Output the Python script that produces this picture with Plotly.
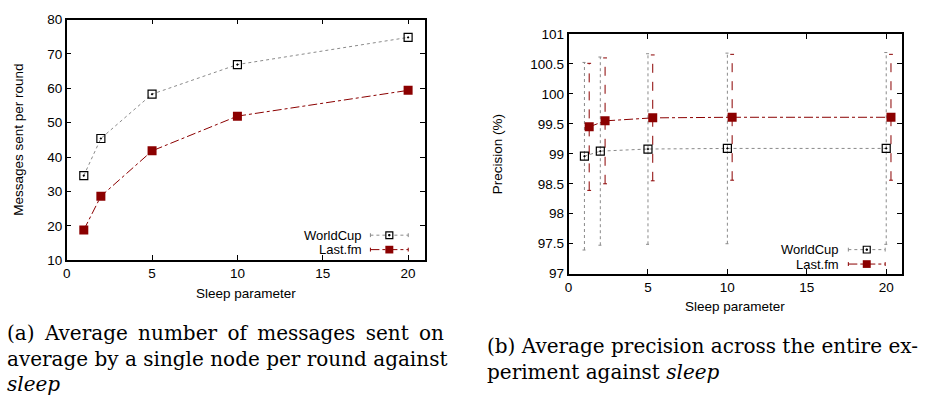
import plotly.graph_objects as go

W, H = 926, 403

# ---------------- data ----------------
sleep = [1, 2, 5, 10, 20]
msgs_worldcup = [34.6, 45.4, 58.3, 66.9, 74.8]
msgs_lastfm = [18.8, 28.6, 41.8, 51.9, 59.4]

prec_x_worldcup = [1.0, 2.0, 5.0, 10.0, 20.0]
prec_x_lastfm = [1.3, 2.3, 5.3, 10.3, 20.3]
prec_worldcup = [98.96, 99.045, 99.08, 99.09, 99.09]
prec_worldcup_err = [1.565, 1.57, 1.59, 1.59, 1.60]
prec_lastfm = [99.45, 99.55, 99.60, 99.61, 99.61]
prec_lastfm_err = [1.06, 1.05, 1.05, 1.05, 1.05]

left_yticks = [10, 20, 30, 40, 50, 60, 70, 80]
right_yticks = [97, 97.5, 98, 98.5, 99, 99.5, 100, 100.5, 101]
right_yticklabels = ["97", "97.5", "98", "98.5", "99", "99.5", "100", "100.5", "101"]
xticks = [0, 5, 10, 15, 20]

GREY = "#8a8a8a"
RED = "#8b0000"
TICKFONT = dict(family="Liberation Sans, Arial, sans-serif", size=13.5, color="black")


def px_x(p):
    return p / W


def px_y(p):
    return 1 - p / H


def errbar_xy(xs, ys, es, cap=0.12):
    bx, by = [], []
    for x, y, e in zip(xs, ys, es):
        lo, hi = y - e, y + e
        bx += [x, x, None, x - cap, x + cap, None, x - cap, x + cap, None]
        by += [lo, hi, None, lo, lo, None, hi, hi, None]
    return bx, by


fig = go.Figure()

# ---------- left panel ----------
fig.add_trace(go.Scatter(
    x=sleep, y=msgs_worldcup, mode="lines+markers", name="WorldCup",
    line=dict(color=GREY, width=1, dash="dot"),
    marker=dict(symbol="square-open-dot", size=8, color="black", line=dict(width=1.2, color="black")),
    xaxis="x", yaxis="y", showlegend=False))
fig.add_trace(go.Scatter(
    x=sleep, y=msgs_lastfm, mode="lines+markers", name="Last.fm",
    line=dict(color=RED, width=1, dash="dashdot"),
    marker=dict(symbol="square", size=9, color=RED),
    xaxis="x", yaxis="y", showlegend=False))

# ---------- right panel ----------
bx, by = errbar_xy(prec_x_worldcup, prec_worldcup, prec_worldcup_err)
fig.add_trace(go.Scatter(x=bx, y=by, mode="lines", line=dict(color=GREY, width=1, dash="dot"),
                         xaxis="x2", yaxis="y2", showlegend=False, hoverinfo="skip"))
bx, by = errbar_xy(prec_x_lastfm, prec_lastfm, prec_lastfm_err)
fig.add_trace(go.Scatter(x=bx, y=by, mode="lines", line=dict(color=RED, width=1, dash="dash"),
                         xaxis="x2", yaxis="y2", showlegend=False, hoverinfo="skip"))
fig.add_trace(go.Scatter(
    x=prec_x_worldcup, y=prec_worldcup, mode="lines+markers", name="WorldCup",
    line=dict(color=GREY, width=1, dash="dot"),
    marker=dict(symbol="square-open-dot", size=8, color="black", line=dict(width=1.2, color="black")),
    xaxis="x2", yaxis="y2", showlegend=False))
fig.add_trace(go.Scatter(
    x=prec_x_lastfm, y=prec_lastfm, mode="lines+markers", name="Last.fm",
    line=dict(color=RED, width=1, dash="dashdot"),
    marker=dict(symbol="square", size=9, color=RED),
    xaxis="x2", yaxis="y2", showlegend=False))

axis_common = dict(showline=True, linecolor="black", linewidth=1.5, mirror="ticks",
                   ticks="inside", ticklen=5, tickcolor="black", tickwidth=1,
                   showgrid=False, zeroline=False, tickfont=TICKFONT)

fig.update_layout(
    width=W, height=H, margin=dict(l=0, r=0, t=0, b=0),
    paper_bgcolor="white", plot_bgcolor="white",
    xaxis=dict(domain=[px_x(63), px_x(423)], range=[0, 21], tickvals=xticks, anchor="y", **axis_common),
    yaxis=dict(domain=[px_y(263), px_y(13)], range=[10, 80], tickvals=left_yticks, anchor="x", **axis_common),
    xaxis2=dict(domain=[px_x(567), px_x(902)], range=[0, 21], tickvals=xticks, anchor="y2", **axis_common),
    yaxis2=dict(domain=[px_y(277), px_y(28)], range=[97, 101], tickvals=right_yticks,
                ticktext=right_yticklabels, anchor="x2", **axis_common),
)

annots = []
LBL = dict(family="Liberation Sans, Arial, sans-serif", size=13.5, color="black")
# axis titles
annots.append(dict(x=px_x(243), y=px_y(298), text="Sleep parameter", showarrow=False, font=LBL,
                   xref="paper", yref="paper", xanchor="center", yanchor="middle"))
annots.append(dict(x=px_x(15), y=px_y(138), text="Messages sent per round", showarrow=False, font=LBL,
                   textangle=-90, xref="paper", yref="paper", xanchor="center", yanchor="middle"))
annots.append(dict(x=px_x(734), y=px_y(311), text="Sleep parameter", showarrow=False, font=LBL,
                   xref="paper", yref="paper", xanchor="center", yanchor="middle"))
annots.append(dict(x=px_x(495), y=px_y(153), text="Precision (%)", showarrow=False, font=LBL,
                   textangle=-90, xref="paper", yref="paper", xanchor="center", yanchor="middle"))

# custom legends (gnuplot style: text left of sample)
LEGF = dict(family="Liberation Sans, Arial, sans-serif", size=13, color="black")
shapes = []


def add_legend(text_right, sx0, sx1, y_wc, y_lf):
    for txt, yy in (("WorldCup", y_wc), ("Last.fm", y_lf)):
        annots.append(dict(x=px_x(text_right), y=px_y(yy), text=txt, showarrow=False, font=LEGF,
                           xref="paper", yref="paper", xanchor="right", yanchor="middle",
                           borderpad=0))
    shapes.append(dict(type="line", xref="paper", yref="paper", x0=px_x(sx0), x1=px_x(sx1),
                       y0=px_y(y_wc), y1=px_y(y_wc), line=dict(color=GREY, width=1, dash="dot")))
    shapes.append(dict(type="line", xref="paper", yref="paper", x0=px_x(sx0), x1=px_x(sx1),
                       y0=px_y(y_lf), y1=px_y(y_lf), line=dict(color=RED, width=1, dash="dashdot")))
    for xx in (sx0, sx1):
        shapes.append(dict(type="line", xref="paper", yref="paper", x0=px_x(xx), x1=px_x(xx),
                           y0=px_y(y_wc - 2), y1=px_y(y_wc + 2), line=dict(color=GREY, width=1)))
        shapes.append(dict(type="line", xref="paper", yref="paper", x0=px_x(xx), x1=px_x(xx),
                           y0=px_y(y_lf - 2), y1=px_y(y_lf + 2), line=dict(color=RED, width=1)))
    mx = (sx0 + sx1) / 2
    shapes.append(dict(type="rect", xref="paper", yref="paper", x0=px_x(mx - 3.5), x1=px_x(mx + 3.5),
                       y0=px_y(y_wc - 3.5), y1=px_y(y_wc + 3.5), line=dict(color="black", width=1.2),
                       fillcolor="white"))
    shapes.append(dict(type="rect", xref="paper", yref="paper", x0=px_x(mx - 0.7), x1=px_x(mx + 0.7),
                       y0=px_y(y_wc - 0.7), y1=px_y(y_wc + 0.7), line=dict(color="black", width=1),
                       fillcolor="black"))
    shapes.append(dict(type="rect", xref="paper", yref="paper", x0=px_x(mx - 4), x1=px_x(mx + 4),
                       y0=px_y(y_lf - 4), y1=px_y(y_lf + 4), line=dict(color=RED, width=0),
                       fillcolor=RED))


add_legend(361, 368, 406, 237, 252)
add_legend(840, 848, 885, 252, 267)

# captions
CAP = dict(family="DejaVu Serif, Liberation Serif, serif", size=20, color="black")
TS = "&#8201;"
cap_a = ["(a) Average number of messages sent on".replace(" ", " " + TS),
         "average by a single node per round against",
         "<i>sleep</i>"]
cap_a_y = [339, 366, 392]
for line, yy in zip(cap_a, cap_a_y):
    annots.append(dict(x=px_x(2), y=px_y(yy), text=line, showarrow=False, font=CAP, borderpad=0,
                       xref="paper", yref="paper", xanchor="left", yanchor="middle"))
cap_b = ["(b) Average precision across the entire ex-",
         "periment against <i>sleep</i>"]
cap_b_y = [352, 379]
for line, yy in zip(cap_b, cap_b_y):
    annots.append(dict(x=px_x(484), y=px_y(yy), text=line, showarrow=False, font=CAP, borderpad=0,
                       xref="paper", yref="paper", xanchor="left", yanchor="middle"))

fig.update_layout(annotations=annots, shapes=shapes)
fig.write_html("out.html", config={"displayModeBar": False},
               post_script="document.body.style.margin='0';document.body.style.overflow='hidden';")
